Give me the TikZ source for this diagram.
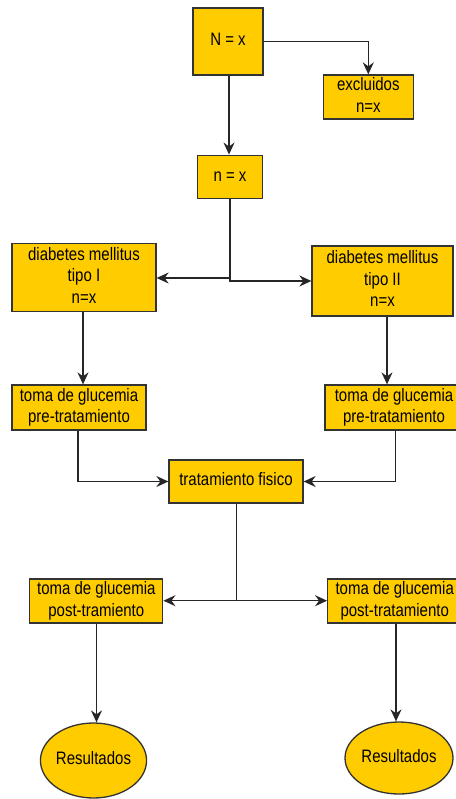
\documentclass[tikz,border=0pt]{standalone}
\usepackage{fontspec}
\usepackage{graphicx}
\setmainfont{Liberation Sans}
\usetikzlibrary{arrows.meta,shapes.geometric}
\definecolor{boxfill}{RGB}{255,204,0}
\definecolor{boxline}{RGB}{51,51,51}
\newcommand{\tx}[1]{\scalebox{1}[1.2]{\fontsize{15}{18}\selectfont\begin{tabular}{@{}c@{}}#1\end{tabular}}}
\tikzset{
  box/.style={draw=boxline, fill=boxfill, line width=1.3pt, inner sep=0pt, align=center},
  oval/.style={ellipse, draw=boxline, fill=boxfill, line width=1.3pt, inner sep=0pt},
  conn/.style={draw=black!85, line width=1.3pt, -{Stealth[length=12pt,width=11pt,inset=4pt]}},
  plain/.style={draw=black!85, line width=1.3pt},
}
\begin{document}
\begin{tikzpicture}[x=1pt,y=-1pt]
\useasboundingbox (0,0) rectangle (455,799);
\fill[white] (0,0) rectangle (455,799);
\node[box, minimum width=70pt, minimum height=67pt] (N) at (228,41.5) {\tx{N = x}};
\node[box, minimum width=90pt, minimum height=44pt] (exc) at (368.3,97) {\tx{excluidos\\n=x}};
\node[box, minimum width=65pt, minimum height=43pt] (n) at (230,176.7) {\tx{n = x}};
\node[box, minimum width=144pt, minimum height=68pt] (d1) at (84,277.3) {\tx{diabetes mellitus\\tipo I\\n=x}};
\node[box, minimum width=141pt, minimum height=70pt] (d2) at (382.5,281) {\tx{diabetes mellitus\\tipo II\\n=x}};
\node[box, minimum width=134pt, minimum height=45pt] (p1) at (79,407.5) {\tx{toma de glucemia\\pre-tratamiento}};
\node[box, minimum width=138pt, minimum height=45pt] (p2) at (394,407.5) {\tx{toma de glucemia\\pre-tratamiento}};
\node[box, minimum width=134pt, minimum height=43pt] (t) at (236,481.5) {\tx{tratamiento fisico}};
\node[box, minimum width=133pt, minimum height=44pt] (q1) at (96.3,601) {\tx{toma de glucemia\\post-tramiento}};
\node[box, minimum width=134pt, minimum height=44pt] (q2) at (394.7,601) {\tx{toma de glucemia\\post-tratamiento}};
\node[oval, minimum width=102pt, minimum height=75pt] (r1) at (93.5,760.5) {\tx{Resultados}};
\node[oval, minimum width=108pt, minimum height=72pt] (r2) at (399,758) {\tx{Resultados}};

\coordinate (jn) at (230,278);
\coordinate (jt) at (236.7,600.7);

\draw[conn] (N.east) -| (exc.north);
\draw[conn] (N.south -| 229,0) -- (n.north -| 229,0);
\draw[plain] (n.south) -- (jn);
\draw[conn] (jn) -- (d1.east |- jn);
\draw[conn] (jn) |- (d2.west);
\draw[conn] (d1.south -| 83,0) -- (p1.north -| 83,0);
\draw[conn] (d2.south -| 387,0) -- (p2.north -| 387,0);
\draw[conn] (p1.south -| 78,0) |- (t.west);
\draw[conn] (p2.south -| 395.7,0) |- (t.east);
\draw[plain] (t.south -| jt) -- (jt);
\draw[conn] (jt) -- (q1.east |- jt);
\draw[conn] (jt) -- (q2.west |- jt);
\draw[conn] (q1.south -| 96.5,0) -- (r1.north -| 96.5,0);
\draw[conn] (q2.south -| 396,0) -- (r2.north -| 396,0);
\end{tikzpicture}
\end{document}
